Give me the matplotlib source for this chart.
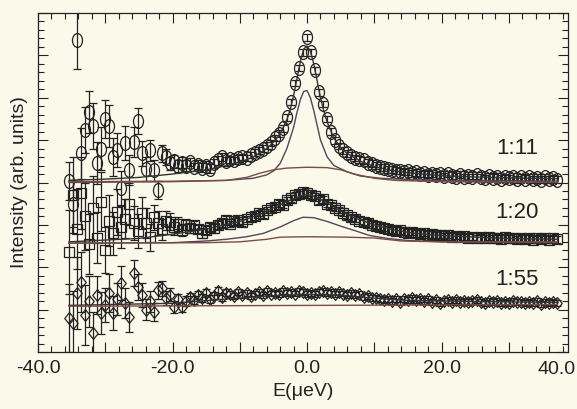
import numpy as np
import matplotlib
matplotlib.use('Agg')
import matplotlib.pyplot as plt
from matplotlib.path import Path
from matplotlib.ticker import MultipleLocator, FixedLocator

# ---------------- data ----------------
energy = [-35.4, -34.8, -34.2, -33.6, -33.0, -32.4, -31.8, -31.2, -30.6, -30.0,
          -29.4, -28.8, -28.2, -27.6, -27.0, -26.4, -25.8, -25.2, -24.6, -24.0,
          -23.4, -22.8, -22.2, -21.6, -21.0, -20.4, -19.8, -19.2, -18.6, -18.0,
          -17.4, -16.8, -16.2, -15.6, -15.0, -14.4, -13.8, -13.2, -12.6, -12.0,
          -11.4, -10.8, -10.2, -9.6, -9.0, -8.4, -7.8, -7.2, -6.6, -6.0,
          -5.4, -4.8, -4.2, -3.6, -3.0, -2.4, -1.8, -1.2, -0.6, 0.0,
          0.6, 1.2, 1.8, 2.4, 3.0, 3.6, 4.2, 4.8, 5.4, 6.0,
          6.6, 7.2, 7.8, 8.4, 9.0, 9.6, 10.2, 10.8, 11.4, 12.0,
          12.6, 13.2, 13.8, 14.4, 15.0, 15.6, 16.2, 16.8, 17.4, 18.0,
          18.6, 19.2, 19.8, 20.4, 21.0, 21.6, 22.2, 22.8, 23.4, 24.0,
          24.6, 25.2, 25.8, 26.4, 27.0, 27.6, 28.2, 28.8, 29.4, 30.0,
          30.6, 31.2, 31.8, 32.4, 33.0, 33.6, 34.2, 34.8, 35.4, 36.0,
          36.6, 37.2]

int_111 = [4.03, 3.50, 7.36, 4.69, 5.24, 5.66, 5.33, 4.46, 4.80, 5.50,
           5.33, 4.60, 4.76, 3.87, 4.93, 4.29, 4.95, 5.45, 4.69, 4.32,
           4.76, 4.29, 3.82, 4.69, 4.60, 4.45, 4.50, 4.38, 4.47, 4.40,
           4.48, 4.36, 4.42, 4.35, 4.40, 4.33, 4.45, 4.52, 4.60, 4.50,
           4.55, 4.52, 4.57, 4.60, 4.58, 4.65, 4.70, 4.75, 4.80, 4.87,
           4.93, 5.05, 5.15, 5.28, 5.54, 5.90, 6.35, 6.70, 7.07, 7.43,
           7.07, 6.65, 6.13, 5.85, 5.50, 5.20, 5.00, 4.86, 4.76, 4.69,
           4.63, 4.58, 4.55, 4.52, 4.47, 4.44, 4.40, 4.36, 4.35, 4.31,
           4.30, 4.28, 4.27, 4.25, 4.26, 4.22, 4.24, 4.20, 4.22, 4.18,
           4.21, 4.17, 4.19, 4.15, 4.20, 4.16, 4.14, 4.18, 4.13, 4.16,
           4.12, 4.17, 4.13, 4.10, 4.15, 4.11, 4.14, 4.09, 4.13, 4.10,
           4.14, 4.08, 4.12, 4.09, 4.13, 4.08, 4.11, 4.07, 4.12, 4.08,
           4.10, 4.07]
err_111 = ([0.45, 0.55, 0.68, 0.60, 0.55, 0.50, 0.55, 0.50, 0.50, 0.45,
            0.50, 0.45, 0.40, 0.40, 0.40, 0.35, 0.35, 0.30, 0.30, 0.28,
            0.25, 0.25, 0.22, 0.20, 0.18, 0.16, 0.15, 0.14, 0.13, 0.12]
           + [0.10] * 10 + [0.08] * 82)

int_120 = [2.36, 3.70, 2.90, 3.75, 3.20, 2.55, 3.40, 2.70, 3.55, 2.41,
           3.10, 2.80, 3.30, 2.95, 3.15, 3.50, 3.04, 2.85, 3.28, 3.05,
           2.71, 3.18, 3.04, 2.90, 3.10, 3.07, 2.95, 3.02, 2.88, 3.00,
           2.92, 3.00, 2.90, 2.80, 2.88, 2.95, 2.92, 3.00, 3.05, 3.11,
           3.02, 3.08, 3.11, 3.06, 3.14, 3.18, 3.20, 3.28, 3.25, 3.35,
           3.40, 3.42, 3.50, 3.48, 3.58, 3.63, 3.70, 3.72, 3.77, 3.75,
           3.70, 3.68, 3.58, 3.60, 3.50, 3.47, 3.40, 3.35, 3.28, 3.23,
           3.18, 3.15, 3.10, 3.07, 3.05, 3.00, 2.98, 2.95, 2.93, 2.90,
           2.88, 2.86, 2.87, 2.84, 2.82, 2.83, 2.80, 2.79, 2.81, 2.77,
           2.78, 2.75, 2.77, 2.74, 2.76, 2.72, 2.74, 2.71, 2.73, 2.70,
           2.72, 2.69, 2.71, 2.68, 2.72, 2.68, 2.70, 2.67, 2.71, 2.68,
           2.70, 2.66, 2.69, 2.67, 2.70, 2.65, 2.68, 2.66, 2.69, 2.65,
           2.68, 2.66]
err_120 = ([1.00, 0.90, 0.95, 0.85, 0.80, 0.70, 0.75, 0.60, 0.70, 0.55,
            0.60, 0.50, 0.55, 0.50, 0.45, 0.50, 0.40, 0.40, 0.38, 0.35,
            0.32, 0.30, 0.28, 0.25, 0.22, 0.20, 0.18, 0.16, 0.14, 0.13]
           + [0.10] * 10 + [0.08] * 82)

int_155 = [0.80, 0.68, 1.40, 1.65, 0.87, 1.20, 0.45, 1.35, 0.92, 1.10,
           1.39, 0.92, 1.25, 1.63, 1.16, 0.83, 1.86, 1.53, 1.34, 1.00,
           1.20, 0.94, 1.46, 1.50, 1.28, 1.35, 1.06, 1.25, 1.06, 1.20,
           1.30, 1.22, 1.35, 1.28, 1.39, 1.25, 1.33, 1.44, 1.30, 1.40,
           1.36, 1.32, 1.42, 1.35, 1.39, 1.33, 1.38, 1.41, 1.35, 1.43,
           1.38, 1.40, 1.36, 1.44, 1.40, 1.42, 1.38, 1.44, 1.41, 1.37,
           1.40, 1.36, 1.42, 1.45, 1.39, 1.41, 1.37, 1.42, 1.38, 1.35,
           1.39, 1.34, 1.36, 1.30, 1.33, 1.28, 1.27, 1.25, 1.22, 1.26,
           1.20, 1.24, 1.18, 1.26, 1.23, 1.27, 1.22, 1.25, 1.21, 1.24,
           1.19, 1.22, 1.16, 1.20, 1.23, 1.19, 1.22, 1.18, 1.21, 1.17,
           1.20, 1.23, 1.18, 1.16, 1.20, 1.17, 1.21, 1.15, 1.19, 1.16,
           1.20, 1.17, 1.19, 1.15, 1.18, 1.16, 1.20, 1.14, 1.18, 1.16,
           1.19, 1.16]
err_155 = ([0.80, 0.75, 0.85, 0.70, 0.70, 0.60, 0.50, 0.45, 0.50, 0.40,
            0.45, 0.40, 0.38, 0.40, 0.35, 0.35, 0.30, 0.30, 0.28, 0.25,
            0.25, 0.22, 0.20, 0.18, 0.16, 0.15, 0.14, 0.13, 0.12, 0.11]
           + [0.09] * 10 + [0.07] * 82)

# fitted curves
fit111_x = [-35.4, -30, -25, -20, -15, -12, -10, -8, -6, -5, -4, -3, -2.5, -2, -1.5,
            -1, -0.5, 0, 0.5, 1, 1.5, 2, 2.5, 3, 4, 5, 6, 8, 10, 12, 15, 20, 25, 30, 37.2]
fit111_total = [4.05, 4.08, 4.12, 4.20, 4.30, 4.40, 4.48, 4.60, 4.80, 4.95, 5.15, 5.48,
                5.72, 6.05, 6.45, 6.85, 7.15, 7.22, 7.10, 6.80, 6.40, 6.00, 5.68, 5.42,
                5.05, 4.82, 4.68, 4.50, 4.38, 4.30, 4.23, 4.16, 4.13, 4.11, 4.09]
nar111_x = [-35.4, -20, -12, -8, -6, -5, -4, -3, -2.5, -2, -1.5, -1, -0.5, 0, 0.5,
            1, 1.5, 2, 3, 4, 6, 8, 11, 15, 20, 37.2]
nar111_y = [4.00, 4.02, 4.05, 4.10, 4.18, 4.27, 4.45, 4.80, 5.05, 5.30, 5.65, 5.95,
            6.15, 6.17, 6.00, 5.70, 5.35, 5.00, 4.60, 4.40, 4.25, 4.15, 4.10, 4.07,
            4.05, 4.03]
brd111_x = [-35.4, -20, -12, -9, -7, -5, -3, 0, 3, 5, 7, 10, 13, 20, 37.2]
brd111_y = [4.02, 4.03, 4.05, 4.12, 4.22, 4.30, 4.34, 4.36, 4.35, 4.30, 4.20, 4.10,
            4.05, 4.02, 4.00]

fit120_x = [-35.4, -25, -20, -15, -10, -7, -5, -3, -1, 0, 1, 3, 5, 7, 10, 13, 16, 20,
            25, 30, 37.2]
fit120_total = [2.60, 2.68, 2.78, 2.90, 3.08, 3.25, 3.40, 3.55, 3.68, 3.72, 3.68, 3.52,
                3.33, 3.17, 3.00, 2.88, 2.80, 2.75, 2.71, 2.68, 2.66]
pk120_x = [-35.4, -20, -15, -12, -9, -6.5, -4, -2, -0.6, 1, 3, 5, 7, 9.3, 12, 15, 20, 37.2]
pk120_y = [2.57, 2.58, 2.62, 2.66, 2.72, 2.80, 2.95, 3.10, 3.18, 3.17, 3.08, 2.97,
           2.87, 2.75, 2.68, 2.63, 2.60, 2.58]
brd120_x = [-35.4, -15, -10, -6, -4, 0, 6, 10, 14, 20, 37.2]
brd120_y = [2.57, 2.58, 2.60, 2.66, 2.71, 2.72, 2.71, 2.69, 2.62, 2.60, 2.60]

fit155_x = [-35.4, -20, -12, -5, 0, 5, 10, 15, 25, 37.2]
fit155_total = [1.10, 1.15, 1.25, 1.33, 1.36, 1.34, 1.27, 1.22, 1.19, 1.17]
bg155_x = [-35.4, 37.2]
bg155_y = [1.08, 1.12]

labels = ["1:11", "1:20", "1:55"]
label_pos = [(31.2, 4.81), (31.2, 3.30), (31.2, 1.70)]

xtick_vals = [-40, -30, -20, -10, 0, 10, 20, 30]
xtick_labels = ["-40.0", "", "-20.0", "", "0.0", "", "20.0", ""]

# ---------------- style ----------------
BG = '#fbf9ea'
INK = '#222222'
plt.rcParams['font.family'] = ['Liberation Sans', 'DejaVu Sans']

# custom markers (slightly tall, as in the original)
ell = Path.unit_circle()
ellipse_marker = Path(ell.vertices * np.array([0.72, 1.0]), ell.codes)
diamond_marker = Path([(0, 1), (0.8, 0), (0, -1), (-0.8, 0), (0, 1)],
                      [Path.MOVETO, Path.LINETO, Path.LINETO, Path.LINETO, Path.CLOSEPOLY])

fig = plt.figure(figsize=(5.77, 4.09), dpi=100, facecolor=BG)
ax = fig.add_axes([38 / 577, 1 - 352 / 409, (568 - 38) / 577, (352 - 13) / 409])
ax.set_facecolor(BG)

series = [
    (int_111, err_111, ellipse_marker, 10.0),
    (int_120, err_120, 's', 6.5),
    (int_155, err_155, diamond_marker, 8.5),
]
for yv, ev, mk, ms in series:
    ax.errorbar(energy, yv, yerr=ev, fmt='none', ecolor=INK, elinewidth=0.9,
                capsize=3, capthick=0.9, zorder=2)
    ax.plot(energy, yv, linestyle='none', marker=mk, markersize=ms,
            markerfacecolor='none', markeredgecolor=INK, markeredgewidth=0.9, zorder=3)

COL_TOT = '#333333'
COL_NAR = '#54455a'
COL_BRD = '#7c4c46'
ax.plot(fit111_x, fit111_total, color=COL_TOT, lw=1.0, zorder=4)
ax.plot(nar111_x, nar111_y, color=COL_NAR, lw=1.0, zorder=4)
ax.plot(brd111_x, brd111_y, color=COL_BRD, lw=1.0, zorder=4)
ax.plot(fit120_x, fit120_total, color=COL_TOT, lw=1.0, zorder=4)
ax.plot(pk120_x, pk120_y, color=COL_NAR, lw=1.0, zorder=4)
ax.plot(brd120_x, brd120_y, color=COL_BRD, lw=1.0, zorder=4)
ax.plot(fit155_x, fit155_total, color=COL_TOT, lw=1.0, zorder=4)
ax.plot(bg155_x, bg155_y, color=COL_BRD, lw=1.0, zorder=4)

for txt, (lx, ly) in zip(labels, label_pos):
    ax.text(lx, ly, txt, ha='center', va='center', fontsize=16, color=INK)

ax.set_xlim(-40, 38.8)
ax.set_ylim(0, 8)
ax.xaxis.set_major_locator(FixedLocator(xtick_vals))
ax.set_xticklabels(xtick_labels)
ax.xaxis.set_minor_locator(MultipleLocator(2))
ax.yaxis.set_major_locator(MultipleLocator(1))
ax.yaxis.set_minor_locator(MultipleLocator(0.2))
ax.set_yticklabels([])

ax.tick_params(which='both', direction='in', top=True, right=True, colors=INK,
               labelsize=14, width=0.8)
ax.tick_params(which='major', length=7)
ax.tick_params(which='minor', length=4)
ax.tick_params(axis='x', pad=6)
for sp in ax.spines.values():
    sp.set_color(INK)
    sp.set_linewidth(0.9)

# the "40.0" label sits at the right edge of the picture
fig.text(576 / 577, 1 - 370 / 409, "40.0", ha='right', va='center', fontsize=14, color=INK)

ax.set_xlabel("E(\u03bceV)", fontsize=14, color=INK, labelpad=4)
ax.set_ylabel("Intensity (arb. units)", fontsize=14, color=INK, labelpad=4)

fig.savefig('out.png', dpi=100, facecolor=BG)
